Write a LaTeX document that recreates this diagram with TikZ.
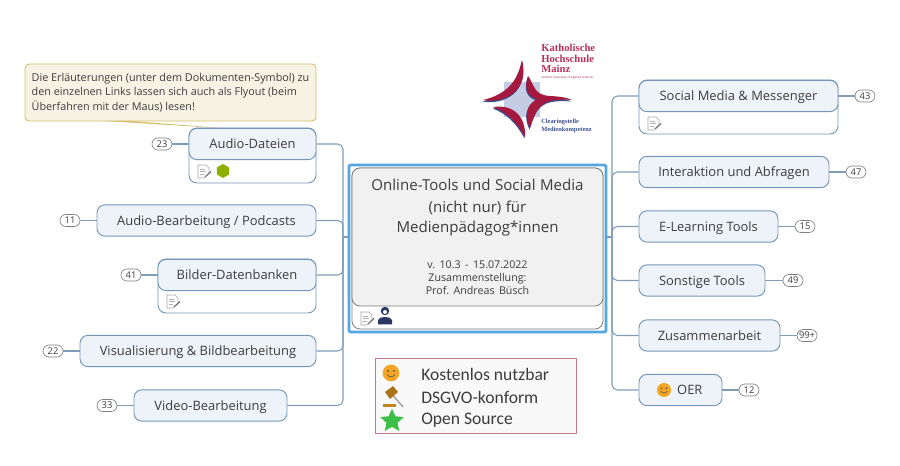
\documentclass[tikz,border=0pt]{standalone}
\usepackage{fontspec}
\setmainfont{Open Sans}
\newfontfamily\legendfont{Carlito}
\newfontfamily\logofont{Liberation Serif}
\usetikzlibrary{shapes.geometric}
\definecolor{linkblue}{HTML}{7F9DB9}
\definecolor{boxfill}{HTML}{EEF3F9}
\definecolor{boxline}{HTML}{7396B8}
\definecolor{dtext}{HTML}{3C3C3C}
\definecolor{framebl}{HTML}{55A5E2}
\definecolor{mainfill}{HTML}{F1F1F1}
\definecolor{mainline}{HTML}{7C7C7C}
\definecolor{notefill}{HTML}{F6F2E4}
\definecolor{noteline}{HTML}{D6BF68}
\definecolor{logored}{HTML}{A6193F}
\definecolor{logotxt}{HTML}{B8325A}
\definecolor{logoblue}{HTML}{3C4E8C}
\definecolor{logosq}{HTML}{C5CDE4}
\definecolor{smile}{HTML}{F3A625}
\definecolor{legline}{HTML}{BF7A8A}
\definecolor{hexgreen}{HTML}{8DB000}
\definecolor{stargreen}{HTML}{3CC04A}
\tikzset{
  topicbox/.style={draw=boxline,fill=boxfill,line width=0.7pt,rounded corners=6pt,text=dtext,font=\fontsize{9.7}{12}\selectfont,inner sep=0pt,text height=8.4pt,text depth=0.9pt},
  footbox/.style={draw=boxline,fill=white,line width=0.7pt,rounded corners=6pt},
  countbadge/.style={draw=mainline,fill=white,line width=0.5pt,rounded corners=4.5pt,minimum width=15pt,minimum height=9pt,inner sep=0pt,text=dtext,font=\fontsize{7}{8}\selectfont},
  linkline/.style={draw=linkblue,line width=0.8pt,rounded corners=4pt},
}
\newcommand{\docicon}[1]{
  \begin{scope}[shift={(#1)}]
    \draw[gray!70,fill=white,line width=0.4pt] (0,0) -- (8,0) -- (11,3) -- (11,8) -- (6,13) -- (0,13) -- cycle;
    \draw[gray!60,line width=0.3pt] (2,4) -- (7,4) (2,6.5) -- (8,6.5) (2,9) -- (6,9);
    \draw[gray!90!black,line width=0.9pt] (7,12) -- (13,6.5);
  \end{scope}
}
\newcommand{\smileyicon}[2]{
  \begin{scope}[shift={(#1)},scale=#2]
    \fill[smile] (0,0) circle (7);
    \fill[black!70] (-2.5,-1.8) circle (0.9) (2.5,-1.8) circle (0.9);
    \draw[black!70,line width=0.4pt] (-3.4,1.2) .. controls (-1.5,3.8) and (1.5,3.8) .. (3.4,1.2);
  \end{scope}
}
\begin{document}
\begin{tikzpicture}[x=0.75pt,y=-0.75pt]
  \useasboundingbox (0,0) rectangle (900,466);
  % note above the first topic
  \node[draw=noteline,fill=notefill,line width=0.7pt,rounded corners=3pt,minimum width=218.25pt,minimum height=42.75pt,inner sep=0pt,text=dtext,align=left,font=\fontsize{8.1}{10.9}\selectfont] (note) at (170.5,92.5)
    {Die Erläuterungen (unter dem Dokumenten-Symbol) zu\\den einzelnen Links lassen sich auch als Flyout (beim\\Überfahren mit der Maus) lesen!};
  \coordinate (notea) at (105,121);
  \coordinate (noteb) at (131,121);
  \coordinate (notec) at (233,129);
  \fill[noteline] (notea) -- (noteb) -- (notec) -- cycle;
  % hubs beside the main topic
  \coordinate (lhub) at (343,237);
  \coordinate (rhub) at (612,237);
  % footers below some topics
  \foreach \x/\y/\w/\h in {252.5/155.5/127/55, 237/286/158/54, 738.5/107/199/54}{
    \node[footbox,minimum width=\w*0.75pt,minimum height=\h*0.75pt] at (\x,\y) {};
  }
  % topics on the left
  \foreach \name/\x/\y/\w/\label/\bx/\num in {
    adat/252.5/144/127/Audio-Dateien/162/23,
    abea/206.5/220.5/219/{Audio-Bearbeitung / Podcasts}/70/11,
    bild/237/275/158/Bilder-Datenbanken/131/41,
    visu/198/351/236/Visualisierung \& Bildbearbeitung/53/22,
    vide/210.5/405.5/153/Video-Bearbeitung/107/33
  }{
    \node[topicbox,minimum width=\w*0.75pt,minimum height=23.5pt] (\name) at (\x,\y) {\label};
    \node[countbadge] (c\name) at (\bx,\y) {\num};
    \draw[linkline] (c\name) -- (\name);
    \draw[linkline] (\name.east) -| (lhub);
  }
  % topics on the right
  \foreach \name/\x/\y/\w/\label/\bx/\num in {
    soci/738.5/96/199/Social Media \& Messenger/865/43,
    inte/734/172/190/Interaktion und Abfragen/856/47,
    lern/708.5/226.5/139/E-Learning Tools/805/15,
    sons/702/280.5/126/Sonstige Tools/793/49,
    zusa/709.5/335.5/141/Zusammenarbeit/807/99+,
    oerb/680.5/390/83/\hspace*{14pt}OER/749/12
  }{
    \node[topicbox,minimum width=\w*0.75pt,minimum height=23.5pt] (\name) at (\x,\y) {\label};
    \node[countbadge] (c\name) at (\bx,\y) {\num};
    \draw[linkline] (\name) -- (c\name);
    \draw[linkline] (\name.west) -| (rhub);
  }
  % main topic
  \node[draw=framebl,fill=white,line width=2pt,rounded corners=1pt,minimum width=192.75pt,minimum height=125.25pt,inner sep=0pt] (mainframe) at (477.5,248.5) {};
  \draw[linkline] (lhub) -- (mainframe.west |- lhub);
  \draw[linkline] (rhub) -- (mainframe.east |- rhub);
  \node[draw=mainline,fill=white,line width=0.6pt,rounded corners=6pt,minimum width=188.25pt,minimum height=120.75pt] (mainfoot) at (477.5,248.5) {};
  \node[draw=mainline,fill=mainfill,line width=0.6pt,rounded corners=6pt,text width=188.25pt,minimum height=103.5pt,inner sep=0pt,text=dtext,align=center] (main) at (477.5,237)
    {\frenchspacing\vspace*{2.5pt}{\fontsize{11.3}{14.3}\selectfont Online-Tools und Social Media\\(nicht nur) für\\Medienpädagog*innen\par}\vspace{17pt}
     {\fontsize{8}{10}\selectfont v. 10.3 - 15.07.2022\\Zusammenstellung:\\Prof. Andreas Büsch\par}};
  % icons
  \docicon{198,165}
  \docicon{648,117}
  \docicon{167,295}
  \docicon{361,312}
  \node[regular polygon,regular polygon sides=6,shape border rotate=30,fill=hexgreen,minimum size=10.5pt,inner sep=0pt] (hexa) at (223,171) {};
  \smileyicon{664,390}{1}
  \fill[logoblue!70!black] (385,311) circle (4.2);
  \fill[logoblue!70!black] (378,324.5) -- (378,320) .. controls (379,316) and (391,316) .. (392,320) -- (392,324.5) -- cycle;
  \fill[white] (385,312) circle (2);
  % legend
  \node[draw=legline,fill=gray!5,line width=0.7pt,minimum width=150.75pt,minimum height=56.25pt,inner sep=0pt] (legend) at (475.5,395.5) {};
  \foreach \name/\y/\label in {free/374/Kostenlos nutzbar, gdpr/397/DSGVO-konform, open/420/Open Source}{
    \node[anchor=west,inner sep=0pt,text=dtext,font=\legendfont\fontsize{13.2}{15}\selectfont] (\name) at (421,\y) {\label};
  }
  \smileyicon{391,373}{1.2}
  \draw[gray!80,line width=1pt] (391,393) -- (403,407);
  \fill[smile!70!black] (385,392) -- (393,386) -- (398,392) -- (390,399) -- cycle;
  \fill[smile!80!black] (383,404) rectangle (396,407);
  \node[star,star points=5,star point ratio=2.1,fill=stargreen,minimum size=18.5pt,inner sep=0pt] (ostar) at (392,421) {};
  % logo
  \fill[logosq] (504,82) rectangle (540,117);
  \foreach \dx/\dy/\col in {-0.5/1.5/logoblue, 0/0/logored}{
    \begin{scope}[shift={(\dx,\dy)}]
      \fill[\col] (483,100) .. controls (505,104) and (530,90) .. (522,60) .. controls (518,82) and (505,95) .. cycle;
      \fill[\col] (493,107) .. controls (515,104) and (526,118) .. (525,137) .. controls (517,122) and (507,112) .. cycle;
      \fill[\col] (528,76) .. controls (535,85) and (533,95) .. (550,96) .. controls (558,96.5) and (566,97) .. (572,100) .. controls (560,99) and (552,100) .. (547,102) .. controls (537,106) and (534,116) .. (530,128) .. controls (524,116) and (526,105) .. (537,99) .. controls (527,96) and (524,88) .. cycle;
    \end{scope}
  }
  \node[anchor=north west,inner sep=0pt,align=left,text=logotxt,font=\logofont\bfseries\fontsize{8}{8}\selectfont] (logotext) at (541,44) {Katholische\\Hochschule\\Mainz};
  \node[anchor=west,inner sep=0pt,text=logored,font=\fontsize{2.2}{3}\selectfont] (logosub) at (541,78) {Catholic University of Applied Sciences};
  \node[anchor=north west,inner sep=0pt,align=left,text=logoblue,font=\logofont\bfseries\fontsize{4.8}{5.5}\selectfont] (logoclear) at (541,119) {Clearingstelle\\Medienkompetenz};
\end{tikzpicture}
\end{document}
